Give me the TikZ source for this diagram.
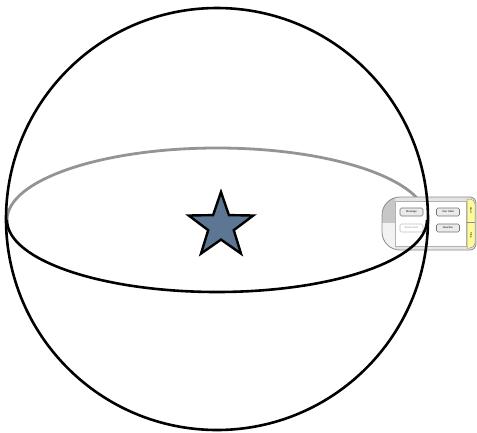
\documentclass[tikz,border=0pt]{standalone}
\usepackage{fontspec}
\setmainfont{Liberation Sans}
\begin{document}
\begin{tikzpicture}[x=1pt,y=-1pt,
  btn/.style={draw=black!55,fill=black!8,rounded corners=1.5pt,line width=0.6pt,minimum width=23pt,minimum height=8pt,inner sep=0pt,font=\fontsize{2.6}{3}\selectfont},
  btnoff/.style={btn,draw=black!25,fill=white,text=black!40},
  tiny/.style={font=\fontsize{2.6}{3}\selectfont,inner sep=0pt}]
\useasboundingbox (0,0) rectangle (477,432);
\fill[white] (0,0) rectangle (477,432);
% back half of equator
\draw[black!42,line width=2.8pt] (7,220) arc[start angle=180,end angle=360,x radius=210,y radius=72];
% panel
\begin{scope}
\clip (430,197) [rounded corners=6pt] -- (476,197) -- (476,250) -- (430,250) [rounded corners=18pt] -- (382,250) -- (382,197) [sharp corners] -- cycle;
\fill[black!10] (380,195) rectangle (477,252);
\fill[black!22] (380,195) rectangle (395,222.5);
\fill[black!5] (380,222.5) rectangle (395,252);
\end{scope}
\draw[black!45,line width=0.8pt] (430,197) [rounded corners=6pt] -- (476,197) -- (476,250) -- (430,250) [rounded corners=18pt] -- (382,250) -- (382,197) [sharp corners] -- cycle;
\draw[black!30,fill=white,line width=0.5pt] (395,201) rectangle (466,246);
\draw[black!45,fill=yellow!40,line width=0.5pt] (467,199) [rounded corners=5pt] -- (475,199) -- (475,248) [sharp corners] -- (467,248) -- cycle;
\draw[black!45,line width=0.5pt] (467,222.5) -- (475,222.5);
\node[tiny,rotate=-90] (ys) at (471,210) {Start};
\node[tiny,rotate=-90] (yp) at (471,235) {Stop};
\node[btn] (msg) at (411.5,212) {Message};
\node[btn] (stats) at (448,212) {Your Stats};
\node[btnoff] (email) at (411.5,228) {Email Stats};
\node[btn] (react) at (448,228) {Reaction};
% sphere outline
\draw[black,line width=2.6pt] (217,219) circle[radius=211];
% front half of equator
\draw[black,line width=2.6pt] (7,220) arc[start angle=180,end angle=0,x radius=210,y radius=72];
% star
\draw[black,line width=2.4pt,line join=miter,fill={rgb,255:red,92;green,118;blue,148}]
  (221,192) -- (228.9,215.1) -- (253.3,215.5) -- (233.8,230.2) -- (241,253.6) -- (221,239.6)
  -- (201,253.6) -- (208.2,230.2) -- (188.7,215.5) -- (213.1,215.1) -- cycle;
\end{tikzpicture}
\end{document}
